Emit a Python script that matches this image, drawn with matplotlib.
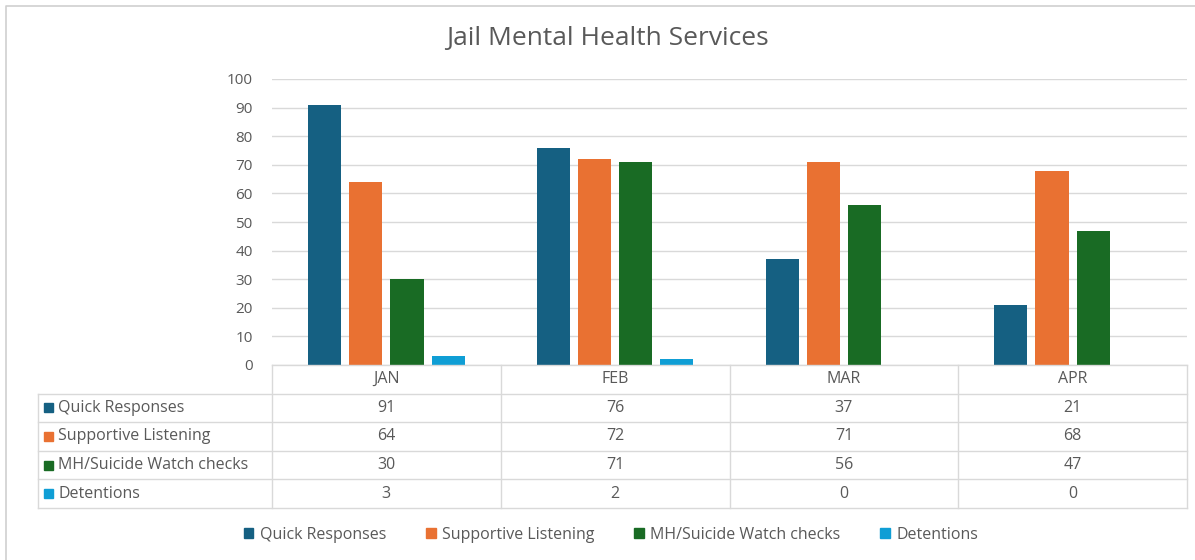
import matplotlib.pyplot as plt
import numpy as np
from matplotlib.lines import Line2D
from matplotlib.patches import Rectangle, Patch

plt.rcParams['font.family'] = ['Open Sans', 'DejaVu Sans']

months = ['JAN', 'FEB', 'MAR', 'APR']
series_names = ['Quick Responses', 'Supportive Listening', 'MH/Suicide Watch checks', 'Detentions']
quick = [91, 76, 37, 21]
supportive = [64, 72, 71, 68]
watch = [30, 71, 56, 47]
detentions = [3, 2, 0, 0]
colors = ['#156082', '#E97132', '#196B24', '#0F9ED5']
yticks = [0, 10, 20, 30, 40, 50, 60, 70, 80, 90, 100]

series = [quick, supportive, watch, detentions]

W, H = 1195, 560
fig = plt.figure(figsize=(W / 100, H / 100), dpi=100)
txt = '#595959'
grid = '#d9d9d9'

def fx(px):
    return px / W

def fy(py):
    return 1 - py / H

# outer border (only top and left edges are visible)
fig.add_artist(Line2D([fx(6), fx(6), 1], [0, fy(6), fy(6)], transform=fig.transFigure,
                      color='#cfcfcf', lw=1.2))

# plot area
x0, x1, y0, y1 = 272, 1187, 365, 79
ax = fig.add_axes([fx(x0), fy(y0), fx(x1) - fx(x0), fy(y1) - fy(y0)])
x = np.arange(len(months))
stride, width = 0.18, 0.145
for i, (vals, c) in enumerate(zip(series, colors)):
    ax.bar(x + (i - 1.5) * stride, vals, width, color=c, zorder=3)
ax.set_xlim(-0.5, len(months) - 0.5)
ax.set_ylim(0, 100)
ax.set_yticks(yticks)
ax.set_xticks([])
ax.grid(axis='y', color=grid, lw=1, zorder=0)
for s in ax.spines.values():
    s.set_visible(False)
ax.tick_params(axis='y', length=0, pad=14, labelsize=11, labelcolor=txt)

fig.text(fx(607), fy(38), 'Jail Mental Health Services', ha='center', va='center',
         fontsize=19, color=txt)

# data table
tx0 = 38
col_w = (x1 - x0) / len(months)
row_top = 365
row_h = 28.6
n_rows = len(series) + 1
rows_y = [row_top + k * row_h for k in range(n_rows + 1)]
fs = 11.5

def hline(xa, xb, yy):
    fig.add_artist(Line2D([fx(xa), fx(xb)], [fy(yy), fy(yy)], transform=fig.transFigure,
                          color=grid, lw=1))

def vline(xx, ya, yb):
    fig.add_artist(Line2D([fx(xx), fx(xx)], [fy(ya), fy(yb)], transform=fig.transFigure,
                          color=grid, lw=1))

hline(x0, x1, rows_y[0])
for k in range(1, n_rows + 1):
    hline(tx0, x1, rows_y[k])
vline(tx0, rows_y[1], rows_y[-1])
for j in range(len(months) + 1):
    vline(x0 + j * col_w, rows_y[0], rows_y[-1])

for j, m in enumerate(months):
    fig.text(fx(x0 + (j + 0.5) * col_w), fy((rows_y[0] + rows_y[1]) / 2), m,
             ha='center', va='center', fontsize=fs, color=txt)

for i, (name, vals, c) in enumerate(zip(series_names, series, colors)):
    yc = (rows_y[i + 1] + rows_y[i + 2]) / 2
    fig.add_artist(Rectangle((fx(44), fy(yc + 4.5)), fx(9), 9 / H,
                             transform=fig.transFigure, color=c))
    fig.text(fx(58), fy(yc), name, ha='left', va='center', fontsize=fs, color=txt)
    for j, v in enumerate(vals):
        fig.text(fx(x0 + (j + 0.5) * col_w), fy(yc), str(v), ha='center', va='center',
                 fontsize=fs, color=txt)

# legend
handles = [Patch(color=c, label=n) for c, n in zip(colors, series_names)]
leg = fig.legend(handles=handles, loc='center', bbox_to_anchor=(fx(611), fy(535)), ncol=4,
                 frameon=False, fontsize=fs, handlelength=0.6, handleheight=0.6,
                 handletextpad=0.4, columnspacing=2.5)
for t in leg.get_texts():
    t.set_color(txt)

fig.savefig('out.png', dpi=100)
